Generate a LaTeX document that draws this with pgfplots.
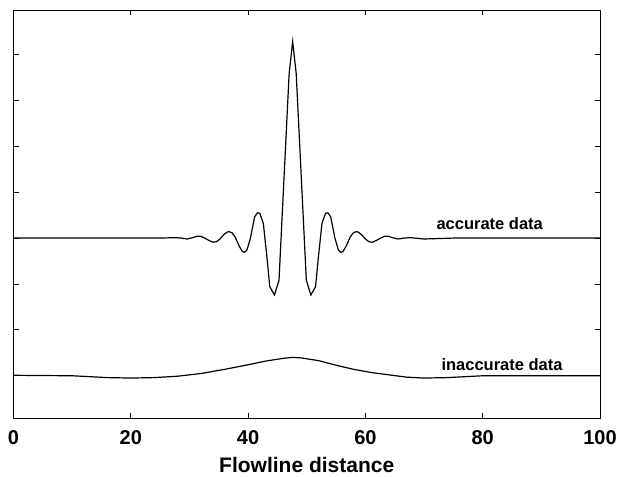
\documentclass[border=0pt]{standalone}
\usepackage{fontspec}
\setmainfont{Liberation Sans}
\usepackage{pgfplots}
\pgfplotsset{compat=1.18}
\newcommand{\tl}[1]{{\fontsize{20}{20}\selectfont\bfseries #1}}
\begin{document}
\begin{tikzpicture}
\begin{axis}[
  scale only axis,
  width=586.5pt, height=408pt,
  xmin=0, xmax=100, ymin=-3.92, ymax=4.97,
  xtick={0,20,40,60,80,100},
  xticklabels={\tl{0},\tl{20},\tl{40},\tl{60},\tl{80},\tl{100}},
  ytick={-3,-2,...,4},
  yticklabels={},
  tick align=inside,
  major tick length=5pt,
  tick style={black, line width=0.8pt},
  axis line style={black, line width=0.9pt},
  xticklabel style={anchor=center, yshift=-20pt},
  xlabel={\fontsize{21}{21}\selectfont\bfseries Flowline distance},
  xlabel style={at={(axis description cs:0.5,0)}, anchor=center, yshift=-47pt},
  clip=false,
]
\addplot[black, line width=1.2pt] coordinates {
(0,0) (10,0) (20,0) (25,0) (27.6,0.01) (28.6,0) (29.6,-0.02) (30.6,0.01)
(31.3,0.04) (31.9,0.04) (32.6,0.0) (33.3,-0.05) (34.0,-0.09) (34.6,-0.08)
(35.2,-0.02) (35.9,0.08) (36.4,0.13) (36.8,0.14) (37.3,0.11) (37.8,0.02) (38.5,-0.18)
(39.0,-0.29) (39.4,-0.31) (39.8,-0.26) (40.4,0.0) (41.1,0.46) (41.6,0.55) (42.0,0.54) (42.6,0.32)
(43.2,-0.4) (43.7,-1.06) (44.5,-1.24) (45.27,-0.92) (47.0,3.59) (47.6,4.28)
(48.2,3.59) (49.93,-0.92) (50.7,-1.24) (51.5,-1.06) (52.0,-0.4) (52.6,0.32)
(53.2,0.54) (53.6,0.55) (54.1,0.46) (54.8,0.0) (55.4,-0.26) (55.8,-0.31) (56.2,-0.29)
(56.7,-0.18) (57.4,0.02) (57.9,0.11) (58.4,0.14) (58.8,0.13) (59.3,0.08) (60.0,-0.02) (60.6,-0.08)
(61.2,-0.09) (61.9,-0.05) (62.6,0.0) (63.3,0.04) (63.9,0.04) (64.6,0.01)
(65.6,-0.02) (66.6,0) (67.6,0.01) (70,-0.02) (75,0.0) (80,0) (90,0) (100,0)
};
\addplot[black, line width=1.2pt] coordinates {
(0,-2.99) (10,-3.0) (16,-3.04) (20,-3.05) (24,-3.04) (28,-3.01) (32,-2.95)
(36,-2.86) (40,-2.76) (43,-2.68) (46,-2.62) (47.5,-2.60) (49,-2.61) (52,-2.67)
(55,-2.77) (58,-2.86) (61,-2.93) (64,-2.98) (67,-3.03) (70,-3.05) (74,-3.04)
(80,-3.0) (90,-3.0) (100,-3.0)
};
\node[font=\fontsize{16.5}{16.5}\selectfont\bfseries, inner sep=0pt] at (axis cs:81.2,0.32) {accurate data};
\node[font=\fontsize{16.5}{16.5}\selectfont\bfseries, inner sep=0pt] at (axis cs:83.3,-2.75) {inaccurate data};
\end{axis}
\path ([xshift=-13.5pt,yshift=-55pt]current axis.south west) ([xshift=20pt,yshift=10pt]current axis.north east);
\end{tikzpicture}
\end{document}
